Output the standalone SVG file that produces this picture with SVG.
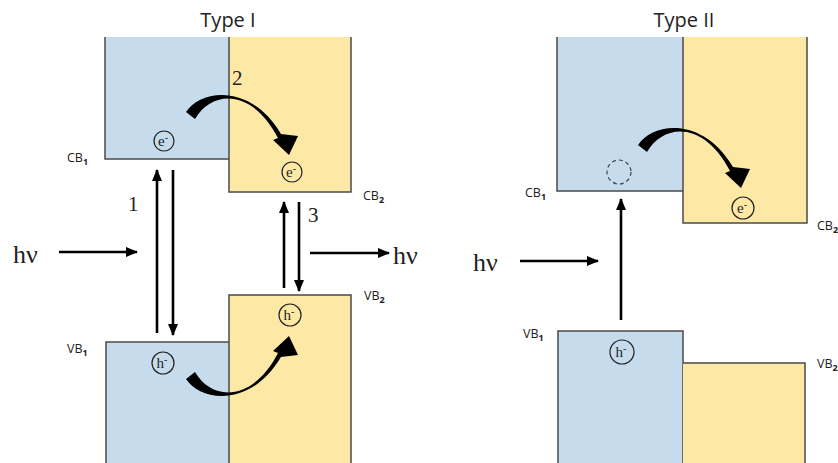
<svg xmlns="http://www.w3.org/2000/svg" width="838" height="463" viewBox="0 0 838 463">
<defs>
<style>
.blue{fill:#c6dcec}
.yel{fill:#fee8a5}
.bd{fill:none;stroke:#4a4a4a;stroke-width:1.5}
.lbl{font-family:"Open Sans","Liberation Sans",sans-serif;font-size:12.5px;fill:#222}
.sub{font-size:9px;font-weight:bold}
.title{font-family:"Open Sans","Liberation Sans",sans-serif;font-size:20px;fill:#222;text-anchor:middle}
.num{font-family:"Liberation Serif",serif;font-size:21px;fill:#222}
.hv{font-family:"Liberation Serif",serif;font-size:26px;fill:#222}
.ct{font-family:"Liberation Serif",serif;font-size:15px;fill:#222;text-anchor:middle}
.cs{font-size:10px}
.circ{fill:none;stroke:#222;stroke-width:1.2}
.arr{stroke:#000;stroke-width:2.6;fill:none;marker-end:url(#ah)}
</style>
<marker id="ah" markerUnits="userSpaceOnUse" markerWidth="12" markerHeight="10" refX="11" refY="5" orient="auto">
<path d="M0,0 L12,5 L0,10 z" fill="#000"/>
</marker>
<path id="curve" d="M186,112 C200,90 250,82 281,134 L298,136 L289,155 L273,140 L278,138 C252,88 212,90 195,119 Z" fill="#000"/>
</defs>

<g id="type1">
<text class="title" x="228" y="27">Type I</text>
<g id="t1-cb1">
<rect class="blue" x="105" y="37" width="124" height="122"/>
<polyline class="bd" points="105,37 105,159 229,159"/>
<text class="lbl" x="67" y="162">CB<tspan class="sub" dy="3">1</tspan></text>
<circle class="circ" cx="164" cy="141" r="10"/>
<text class="ct" x="163" y="146">e<tspan class="cs" dy="-5">-</tspan></text>
</g>
<g id="t1-cb2">
<rect class="yel" x="229" y="37" width="122" height="155"/>
<polyline class="bd" points="229,37 229,192 351,192 351,37"/>
<text class="lbl" x="363" y="200">CB<tspan class="sub" dy="3">2</tspan></text>
<circle class="circ" cx="292" cy="172" r="10"/>
<text class="ct" x="291" y="177">e<tspan class="cs" dy="-5">-</tspan></text>
</g>
<g id="t1-vb1">
<rect class="blue" x="106" y="342" width="123" height="121"/>
<polyline class="bd" points="106,463 106,342 229,342"/>
<text class="lbl" x="67" y="353">VB<tspan class="sub" dy="3">1</tspan></text>
<circle class="circ" cx="163" cy="363" r="11"/>
<text class="ct" x="162" y="368">h<tspan class="cs" dy="-5">-</tspan></text>
</g>
<g id="t1-vb2">
<rect class="yel" x="229" y="295" width="122" height="168"/>
<polyline class="bd" points="229,463 229,295 351,295 351,463"/>
<text class="lbl" x="364" y="300">VB<tspan class="sub" dy="3">2</tspan></text>
<circle class="circ" cx="290" cy="315" r="11"/>
<text class="ct" x="289" y="320">h<tspan class="cs" dy="-5">-</tspan></text>
</g>
<text class="num" x="128" y="211">1</text>
<text class="num" x="232" y="85">2</text>
<text class="num" x="308" y="222">3</text>
<text class="hv" x="13" y="263">hν</text>
<text class="hv" x="393" y="264">hν</text>
</g>

<g id="type2">
<text class="title" x="684" y="27">Type II</text>
<g id="t2-cb1">
<rect class="blue" x="557" y="37" width="126" height="154"/>
<polyline class="bd" points="557,37 557,191 683,191"/>
<text class="lbl" x="525" y="197">CB<tspan class="sub" dy="3">1</tspan></text>
<circle cx="619" cy="172" r="12" fill="none" stroke="#444" stroke-width="1.2" stroke-dasharray="4,3"/>
</g>
<g id="t2-cb2">
<rect class="yel" x="683" y="37" width="124" height="186"/>
<polyline class="bd" points="683,37 683,223 807,223 807,37"/>
<text class="lbl" x="817" y="230">CB<tspan class="sub" dy="3">2</tspan></text>
<circle class="circ" cx="743" cy="208" r="11"/>
<text class="ct" x="742" y="213">e<tspan class="cs" dy="-5">-</tspan></text>
</g>
<g id="t2-vb1">
<rect class="blue" x="558" y="331" width="125" height="132"/>
<polyline class="bd" points="558,463 558,331 683,331 683,463"/>
<text class="lbl" x="523" y="338">VB<tspan class="sub" dy="3">1</tspan></text>
<circle class="circ" cx="622" cy="352" r="12"/>
<text class="ct" x="621" y="357">h<tspan class="cs" dy="-5">-</tspan></text>
</g>
<g id="t2-vb2">
<rect class="yel" x="683" y="363" width="122" height="100"/>
<polyline class="bd" points="683,363 805,363 805,463"/>
<text class="lbl" x="817" y="368">VB<tspan class="sub" dy="3">2</tspan></text>
</g>
<text class="hv" x="473" y="271">hν</text>
</g>

<g id="connectors">
<line class="arr" x1="157" y1="333" x2="157" y2="170"/>
<line class="arr" x1="173" y1="170" x2="173" y2="335"/>
<line class="arr" x1="284" y1="288" x2="284" y2="202"/>
<line class="arr" x1="299" y1="202" x2="299" y2="291"/>
<line class="arr" x1="59" y1="252" x2="137" y2="252"/>
<line class="arr" x1="310" y1="253" x2="389" y2="253"/>
<line class="arr" x1="621" y1="320" x2="621" y2="199"/>
<line class="arr" x1="520" y1="261" x2="598" y2="261"/>
<use href="#curve"/>
<use href="#curve" transform="matrix(1,0,0,-1,0,491)"/>
<use href="#curve" transform="translate(452,33)"/>
</g>
</svg>
